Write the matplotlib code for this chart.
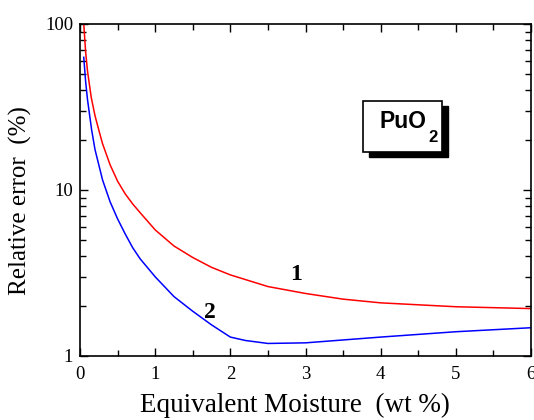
import matplotlib
matplotlib.use("Agg")
import matplotlib.pyplot as plt
from matplotlib.patches import Rectangle
from matplotlib.ticker import FixedLocator, NullFormatter

# Equivalent moisture (wt %) and relative error (%)
moist_1 = [0.05, 0.075, 0.1, 0.15, 0.2, 0.25, 0.3, 0.4, 0.5, 0.6, 0.7, 0.8,
           1.0, 1.25, 1.5, 1.75, 2.0, 2.5, 3.0, 3.5, 4.0, 5.0, 6.0]
err_1 = [100, 68, 52, 36, 28, 23, 19, 14.2, 11.3, 9.5, 8.25, 7.3,
         5.75, 4.6, 3.92, 3.42, 3.08, 2.62, 2.38, 2.2, 2.09, 1.98, 1.93]

moist_2 = [0.05, 0.075, 0.1, 0.155, 0.2, 0.3, 0.4, 0.5, 0.6, 0.7, 0.8, 1.0,
           1.25, 1.5, 1.75, 2.0, 2.2, 2.5, 3.0, 4.0, 5.0, 6.0]
err_2 = [63, 45, 35, 23, 17.5, 11.5, 8.5, 6.7, 5.45, 4.5, 3.85, 3.0,
         2.28, 1.86, 1.54, 1.3, 1.24, 1.19, 1.2, 1.3, 1.4, 1.48]

plt.rcParams['font.family'] = ['Liberation Serif', 'DejaVu Serif']

fig = plt.figure(figsize=(5.34, 4.2), dpi=100)
ax = fig.add_axes([0.1498, 0.1524, 0.8446, 0.7905])

ax.plot(moist_1, err_1, color='red', lw=1.1)
ax.plot(moist_2, err_2, color='blue', lw=1.1)

ax.set_yscale('log')
ax.set_xlim(0, 6)
ax.set_ylim(1, 100)
ax.set_yticks([1, 10, 100])
ax.set_yticklabels(['1', '10', '100'])
ax.yaxis.set_minor_formatter(NullFormatter())
ax.xaxis.set_minor_locator(FixedLocator([0.5, 1.5, 2.5, 3.5, 4.5, 5.5]))

ax.tick_params(which='both', direction='in', top=True, right=True,
               labelsize=13.5, width=1.0)
ax.tick_params(axis='x', pad=7)
ax.tick_params(axis='y', pad=5)
ax.tick_params(which='major', length=6)
ax.tick_params(which='minor', length=4)
for s in ax.spines.values():
    s.set_linewidth(1.2)

ax.set_xlabel('Equivalent Moisture  (wt %)', fontsize=19.5, va='center')
ax.set_ylabel('Relative error  (%)', fontsize=18, va='center')
ax.xaxis.set_label_coords(0.477, -0.148)
ax.yaxis.set_label_coords(-0.131, 0.467)

ax.text(2.87, 3.08, '1', fontsize=17, fontweight='bold', ha='center', va='center')
ax.text(1.73, 1.82, '2', fontsize=17, fontweight='bold', ha='center', va='center')

# PuO2 label box with drop shadow
ax.add_patch(Rectangle((0.641, 0.600), 0.174, 0.154, transform=ax.transAxes,
                       facecolor='black', edgecolor='black', zorder=4))
ax.add_patch(Rectangle((0.628, 0.615), 0.174, 0.154, transform=ax.transAxes,
                       facecolor='white', edgecolor='black', lw=1.2, zorder=5))
ax.text(0.769, 0.686, 'PuO', transform=ax.transAxes, fontsize=16.5,
        fontweight='bold', family='Liberation Sans', ha='right', va='baseline',
        zorder=6)
ax.text(0.772, 0.645, '2', transform=ax.transAxes, fontsize=12,
        fontweight='bold', family='Liberation Sans', ha='left', va='baseline',
        zorder=6)

fig.savefig('out.png', dpi=100)
